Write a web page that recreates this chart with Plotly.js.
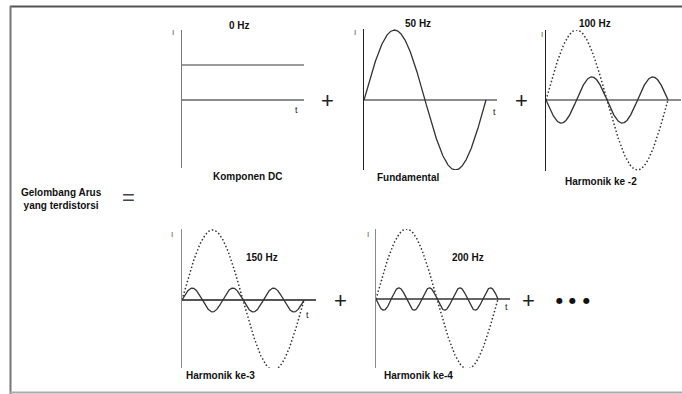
<!DOCTYPE html>
<html>
<head>
<meta charset="utf-8">
<script src="https://cdn.plot.ly/plotly-3.0.1.min.js"></script>
<style>
  html, body { margin: 0; padding: 0; background: #ffffff; }
  #chart { width: 682px; height: 394px; }
</style>
</head>
<body>
<div id="chart"></div>
<script>
// Harmonic components of a distorted current wave
const fundamentalHz = 50;
const frequenciesHz = [0, 50, 100, 150, 200];
const amplitudes = [0.5, 1.0, 0.33, 0.17, 0.16];     // relative to the fundamental
const phaseSigns = [1, 1, -1, 1, -1];                 // starting direction of each wave
const panelTitles = ['0 Hz', '50 Hz', '100 Hz', '150 Hz', '200 Hz'];
const panelCaptions = ['Komponen DC', 'Fundamental', 'Harmonik ke -2', 'Harmonik ke-3', 'Harmonik ke-4'];
const showFundamentalRef = [false, false, true, true, true];

const W = 682, H = 394;
const PX_PER_PERIOD = 122, PX_PER_UNIT = 70;
const FONT = 'Liberation Sans, Arial, sans-serif';

// panel frames in pixels: left, right, top, bottom, baseline
const panels = [
  { l: 182, r: 304, t: 30, b: 168, z: 100, axis: '#7a7a7a', base: '#8c8c8c' },
  { l: 364, r: 497, t: 29, b: 170, z: 100, axis: '#222222', base: '#8c8c8c' },
  { l: 546, r: 681, t: 30, b: 171, z: 100, axis: '#222222', base: '#8c8c8c' },
  { l: 182, r: 316, t: 229, b: 368, z: 300, axis: '#8a8a8a', base: '#555555' },
  { l: 376, r: 510, t: 229, b: 368, z: 299, axis: '#8a8a8a', base: '#666666' }
];

const px = x => x / W;
const py = y => 1 - y / H;

function wave(freq, amp, sign, tMax) {
  const xs = [], ys = [];
  const n = 600;
  for (let i = 0; i <= n; i++) {
    const t = tMax * i / n;
    xs.push(t);
    ys.push(freq === 0 ? amp : sign * amp * Math.sin(2 * Math.PI * (freq / fundamentalHz) * t));
  }
  return { xs, ys };
}

const traces = [];
const layout = {
  width: W, height: H,
  margin: { l: 0, r: 0, t: 0, b: 0, pad: 0 },
  paper_bgcolor: '#ffffff', plot_bgcolor: 'rgba(0,0,0,0)',
  showlegend: false,
  font: { family: FONT, color: '#111111' },
  annotations: [],
  shapes: []
};

panels.forEach((p, i) => {
  const k = i === 0 ? '' : String(i + 1);
  const xa = 'x' + k, ya = 'y' + k;
  const xMax = (p.r - p.l) / PX_PER_PERIOD;
  const yMax = (p.z - p.t) / PX_PER_UNIT;
  const yMin = -(p.b - p.z) / PX_PER_UNIT;

  layout['xaxis' + k] = {
    domain: [px(p.l), px(p.r)], range: [0, xMax], anchor: ya,
    showgrid: false, zeroline: false, showline: false, showticklabels: false, ticks: '', fixedrange: true
  };
  layout['yaxis' + k] = {
    domain: [py(p.b), py(p.t)], range: [yMin, yMax], anchor: xa,
    showgrid: false, showticklabels: false, ticks: '',
    showline: true, linecolor: p.axis, linewidth: 1.5,
    zeroline: true, zerolinecolor: p.base, zerolinewidth: 1.5, fixedrange: true
  };

  if (showFundamentalRef[i]) {
    const ref = wave(frequenciesHz[1], amplitudes[1], phaseSigns[1], 1);
    traces.push({
      x: ref.xs, y: ref.ys, xaxis: xa, yaxis: ya, type: 'scatter', mode: 'lines',
      line: { color: '#333333', width: 1.5, dash: '1.5px,2.2px' }, hoverinfo: 'skip'
    });
  }
  const w = wave(frequenciesHz[i], amplitudes[i], phaseSigns[i], frequenciesHz[i] === 0 ? xMax : 1);
  traces.push({
    x: w.xs, y: w.ys, xaxis: xa, yaxis: ya, type: 'scatter', mode: 'lines',
    line: { color: frequenciesHz[i] === 0 ? '#7a7a7a' : '#333333', width: 1.3 }, hoverinfo: 'skip'
  });
});

// text helper
function label(text, x, y, size, bold, color, family) {
  layout.annotations.push({
    text: bold ? '<b>' + text + '</b>' : text,
    xref: 'paper', yref: 'paper', x: px(x), y: py(y),
    xanchor: 'center', yanchor: 'middle', showarrow: false,
    font: { size: size, color: color || '#111111', family: family || FONT }
  });
}

const titlePos = [[239, 25], [418, 23], [595, 24], [262, 257], [468, 257]];
const captionPos = [[247, 176], [408, 177], [601, 182], [220, 375], [418, 375]];
const tPos = [[296, 110], [494, 112], null, [307, 315], [506, 307]];
const iPos = [[173, 33], [355, 33], [542, 35], [172, 235], [368, 235]];

panelTitles.forEach((s, i) => label(s, titlePos[i][0], titlePos[i][1], 10, true));
panelCaptions.forEach((s, i) => label(s, captionPos[i][0], captionPos[i][1], 10, true));
tPos.forEach(p => { if (p) label('t', p[0], p[1], 9, false, '#222222'); });
iPos.forEach(p => label('I', p[0], p[1], 8, false, '#555555'));

// operators between components
[[327, 100], [521, 100], [340, 300], [528, 300]].forEach(p => label('+', p[0], p[1], 22, false, '#222222'));
label('=', 128, 197, 22, false, '#444444');
[559, 572, 586].forEach(x => label('●', x, 300, 8, false, '#111111', 'DejaVu Sans, sans-serif'));

// left-hand side of the equation
label('Gelombang Arus<br>yang terdistorsi', 61, 199, 10, true);

// figure frame
layout.shapes.push(
  { type: 'line', xref: 'paper', yref: 'paper', x0: px(10), x1: 1, y0: py(6.5), y1: py(6.5), line: { color: '#555555', width: 2 } },
  { type: 'line', xref: 'paper', yref: 'paper', x0: px(10.5), x1: px(10.5), y0: py(6), y1: 0, line: { color: '#777777', width: 2 } },
  { type: 'line', xref: 'paper', yref: 'paper', x0: px(10), x1: 1, y0: py(392.5), y1: py(392.5), line: { color: '#aaaaaa', width: 2 } }
);

Plotly.newPlot('chart', traces, layout, { staticPlot: true, displayModeBar: false });
</script>
</body>
</html>
